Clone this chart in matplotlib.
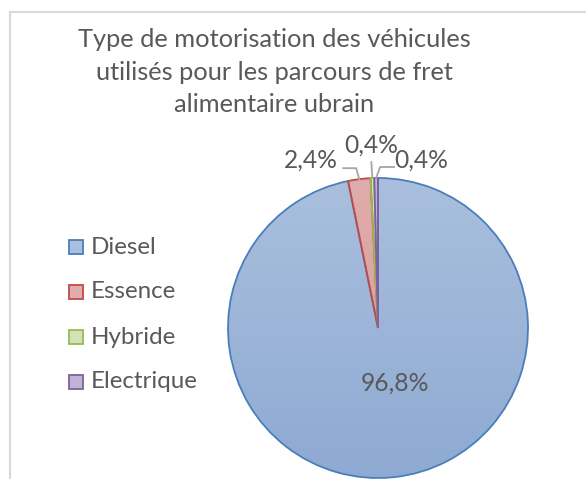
import matplotlib
matplotlib.use("Agg")
import matplotlib.pyplot as plt
import numpy as np
from matplotlib.colors import LinearSegmentedColormap
from matplotlib.patches import Rectangle

plt.rcParams['font.family'] = ['Lato', 'DejaVu Sans']

# données
categories = ['Diesel', 'Essence', 'Hybride', 'Electrique']
valeurs = [96.8, 2.4, 0.4, 0.4]
etiquettes = ['96,8%', '2,4%', '0,4%', '0,4%']
titre = ['Type de motorisation des véhicules',
         'utilisés pour les parcours de fret',
         'alimentaire ubrain']

# couleurs (haut du dégradé, bas du dégradé, contour)
haut = ['#aabfdd', '#dfadac', '#d3e3b9', '#c0b3d3']
bas = ['#8eaad3', '#d99593', '#c2d7a0', '#ac9cc4']
contours = ['#4a7ebb', '#be4b48', '#98b954', '#7d60a0']
gris = '#595959'

W, H = 586, 479
fig = plt.figure(figsize=(W / 100, H / 100), dpi=100)
ax = fig.add_axes([0, 0, 1, 1])

cx, cy, r = 378, H - 328, 150

wedges, _ = ax.pie(valeurs, startangle=90, counterclock=False,
                   center=(cx, cy), radius=r,
                   wedgeprops=dict(linewidth=1.3))

# dégradé vertical dans chaque part
grad = np.linspace(0, 1, 256).reshape(-1, 1)
for w, h_, b_, c in zip(wedges, haut, bas, contours):
    w.set_facecolor('none')
    w.set_edgecolor(c)
    w.set_zorder(3)
    cmap = LinearSegmentedColormap.from_list('g', [b_, h_])
    im = ax.imshow(grad, cmap=cmap, origin='lower', aspect='auto',
                   extent=(cx - r, cx + r, cy - r, cy + r), zorder=2)
    im.set_clip_path(w)

ax.set_xlim(0, W)
ax.set_ylim(0, H)
ax.set_aspect('auto')
ax.axis('off')

# cadre de la zone de graphique
ax.add_patch(Rectangle((10, -20), W + 50, H - 12 + 20, fill=False,
                       edgecolor='#d9d9d9', linewidth=1.5, zorder=1))

# titre, une ligne à la fois
for i, ligne in enumerate(titre):
    ax.text(274, H - (47 + 32.5 * i), ligne, ha='center', va='baseline',
            fontsize=18.3, color=gris)

# légende
for i, (cat, h_, c) in enumerate(zip(categories, haut, contours)):
    y = H - (247 + 45 * i)
    ax.add_patch(Rectangle((69, y - 7), 14, 14, facecolor=h_, edgecolor=c,
                           linewidth=1.3, zorder=4))
    ax.text(91, y, cat, ha='left', va='center', fontsize=17.4, color=gris)

# angle médian de chaque part
angles = []
debut = 90.0
for v in valeurs:
    ang = v / sum(valeurs) * 360
    angles.append(np.deg2rad(debut - ang / 2))
    debut -= ang

# grande part : étiquette à l'intérieur
ax.text(cx + 0.11 * r, cy - 0.37 * r, etiquettes[0], ha='center',
        va='center', fontsize=17.7, color=gris, zorder=5)

# petites parts : étiquettes extérieures avec traits de rappel
decal = [None, (-48, 19), (-1, 33), (45, 18)]
for i in range(1, 4):
    ex, ey = cx + r * np.cos(angles[i]), cy + r * np.sin(angles[i])
    dx, dy = decal[i]
    ax.text(ex + dx, ey + dy, etiquettes[i], ha='center', va='center',
            fontsize=17.7, color=gris, zorder=5)
    if dx < -10:
        xs, ys = [ex, ex - 3, ex - 16], [ey, ey + 11, ey + 11]
    elif dx > 10:
        xs, ys = [ex, ex + 4, ex + 18], [ey, ey + 11, ey + 11]
    else:
        xs, ys = [ex, ex - 1], [ey, ey + 16]
    ax.plot(xs, ys, color='#a6a6a6', linewidth=1.3, zorder=4)

fig.savefig('out.png', dpi=100)
